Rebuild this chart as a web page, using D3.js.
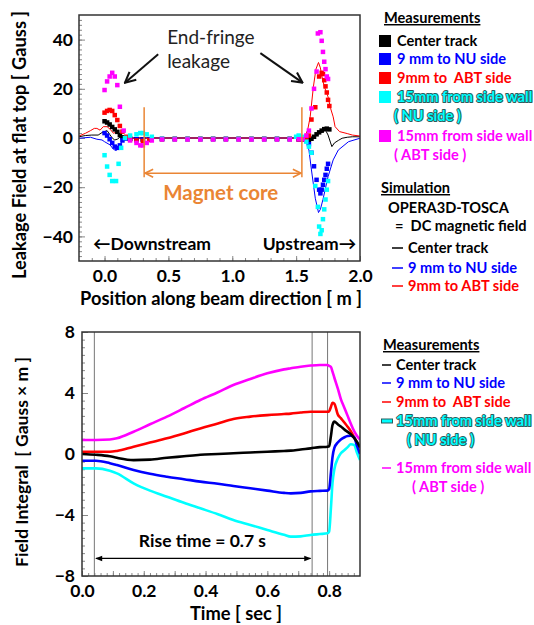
<!DOCTYPE html>
<html>
<head>
<meta charset="utf-8">
<script src="https://cdn.jsdelivr.net/npm/d3@7"></script>
<style>
  body { margin: 0; background: #fff; }
  svg text { font-family: Lato, "Open Sans", sans-serif; white-space: pre; }
  .tick text { font-weight: bold; font-size: 17.5px; fill: #000; }
  .tick line { stroke: #888; }
  .domain { display: none; }
  .outline { paint-order: stroke; stroke: #2d5c5c; stroke-width: 2px; stroke-linejoin: round; }
</style>
</head>
<body>
<script>
// ---------- top chart : leakage field at flat top ----------
var posTicks = [0.0, 0.5, 1.0, 1.5, 2.0];
var fieldTicks = [40, 20, 0, -20, -40];

var blackMeasX = [0.00,0.02,0.04,0.06,0.08,0.10,0.12,0.14,0.17,0.20,0.25,0.30,0.35,0.45,0.55,0.65,0.75,0.85,0.95,1.05,1.15,1.25,1.35,1.45,1.52,1.55,1.58,1.60,1.62,1.64,1.66,1.68,1.70,1.72,1.74,1.76];
var blackMeas  = [6.8,6.3,5.5,4.5,3.5,2.5,1.2,0.3,0.0,-0.3,-0.5,-0.6,-0.5,-0.4,-0.4,-0.4,-0.4,-0.4,-0.4,-0.4,-0.4,-0.4,-0.4,-0.4,-0.5,-0.6,-0.8,-0.8,-0.3,0.5,1.5,2.3,3.0,3.6,3.8,3.5];

var blueMeasX = [0.00,0.02,0.04,0.06,0.08,0.10,0.12,0.14,0.17,0.20,0.25,0.30,0.35,0.45,0.55,0.65,0.75,0.85,0.95,1.05,1.15,1.25,1.35,1.45,1.52,1.55,1.58,1.60,1.62,1.64,1.66,1.68,1.69,1.70,1.71,1.72,1.73,1.74,1.75];
var blueMeas  = [2.0,1.0,-0.5,-2.0,-3.5,-4.0,-3.0,-1.0,-0.2,-0.3,-0.5,-0.6,-0.5,-0.4,-0.4,-0.4,-0.4,-0.4,-0.4,-0.4,-0.4,-0.4,-0.4,-0.4,-0.5,-0.5,-1.0,-2.5,-6.0,-11.5,-17.0,-21.0,-22.5,-21.0,-19.0,-17.0,-15.0,-12.5,-10.5];

var redMeasX = [0.00,0.02,0.04,0.06,0.08,0.10,0.12,0.14,0.17,0.20,0.25,0.30,0.35,0.45,0.55,0.65,0.75,0.85,0.95,1.05,1.15,1.25,1.35,1.45,1.52,1.55,1.58,1.60,1.62,1.65,1.68,1.70,1.71,1.72,1.73,1.74,1.75,1.76];
var redMeas  = [10.3,11.0,11.4,11.0,9.3,7.3,4.9,2.6,0.5,-0.5,-1.0,-1.2,-0.8,-0.5,-0.4,-0.4,-0.4,-0.4,-0.4,-0.4,-0.4,-0.4,-0.4,-0.4,-0.5,-0.5,0.0,1.0,7.5,12.5,25.0,26.5,26.0,23.5,21.0,18.5,15.5,13.0];

var cyanMeasX = [0.00,0.02,0.04,0.06,0.09,0.11,0.13,0.16,0.20,0.25,0.28,0.30,0.33,0.37,0.45,0.55,0.65,0.75,0.85,0.95,1.05,1.15,1.25,1.35,1.45,1.50,1.52,1.55,1.58,1.60,1.62,1.65,1.67,1.68,1.69,1.70,1.71,1.72,1.73,1.74,1.75];
var cyanMeas  = [-7.0,-11.6,-15.0,-17.5,-17.5,-10.5,-4.0,0.0,1.0,1.5,2.0,2.0,1.5,0.5,-0.4,-0.4,-0.4,-0.4,-0.4,-0.4,-0.4,-0.4,-0.4,-0.4,-0.4,0.5,1.0,0.5,-1.5,-3.5,-6.0,-19.5,-28.0,-36.0,-39.0,-37.5,-33.0,-29.0,-25.0,-21.0,-17.5];

var magentaMeasX = [0.00,0.02,0.04,0.06,0.08,0.10,0.12,0.15,0.20,0.25,0.28,0.30,0.33,0.37,0.45,0.55,0.65,0.75,0.85,0.95,1.05,1.15,1.25,1.35,1.45,1.52,1.55,1.58,1.60,1.62,1.64,1.66,1.67,1.69,1.70,1.71,1.72,1.73,1.74,1.75];
var magentaMeas  = [19.5,23.0,25.0,26.5,25.0,21.5,12.7,3.0,-1.0,-2.0,-3.0,-3.0,-2.0,-1.0,-0.6,-0.6,-0.6,-0.6,-0.6,-0.6,-0.6,-0.6,-0.6,-0.6,-0.6,-0.5,-0.5,1.0,3.0,12.0,20.0,27.0,42.5,43.0,39.5,35.0,31.0,28.0,25.0,24.0];

// OPERA3D-TOSCA simulation
var simBlackX = [-0.20,-0.15,-0.10,-0.05,-0.02,0.00,0.02,0.04,0.06,0.08,0.10,0.12,0.15,0.20,1.55,1.58,1.61,1.65,1.69,1.73,1.75,1.77,1.78,1.80,1.83,1.86,1.90,1.94,2.00];
var simBlack  = [0.5,1.0,1.2,1.2,2.2,2.6,3.0,1.5,0.0,-0.8,-0.5,0.3,0.0,0.0,0.0,0.0,0.0,1.2,2.0,3.2,1.2,-2.0,-3.5,-2.0,-1.0,-0.1,0.3,0.5,0.5];
var simRedX = [-0.20,-0.15,-0.11,-0.08,-0.06,-0.035,-0.01,0.02,0.045,0.07,0.095,0.12,0.15,0.20,1.55,1.57,1.59,1.61,1.635,1.655,1.675,1.69,1.70,1.72,1.75,1.77,1.79,1.805,1.84,1.90,1.94,2.00];
var simRed  = [0.8,1.9,3.0,3.9,3.9,3.2,4.6,4.6,3.5,1.9,2.6,0.8,0.0,0.0,0.0,1.0,3.2,8.6,20.8,28.0,30.7,28.5,25.5,21.0,16.7,12.0,8.6,4.6,2.6,1.8,1.2,0.8];
var simBlueX = [-0.20,-0.11,-0.06,-0.02,0.00,0.043,0.07,0.09,0.11,0.135,0.16,0.20,1.55,1.58,1.60,1.62,1.65,1.675,1.69,1.71,1.75,1.79,1.83,1.91,2.00];
var simBlue  = [-0.1,0.3,-0.5,-0.8,-1.5,-2.8,-4.6,-5.1,-4.2,-1.5,-0.5,0.0,0.0,-1.5,-4.9,-13.0,-24.5,-30.3,-29.0,-25.0,-15.7,-8.9,-4.9,-1.5,-0.1];

var coreEdges = [0.31, 1.545];

// ---------- bottom chart : field integral vs time ----------
var timeTicks = [0.0, 0.2, 0.4, 0.6, 0.8];
var intTicks = [8, 4, 0, -4, -8];
var riseT = [0.000,0.045,0.090,0.113,0.167,0.220,0.275,0.330,0.383,0.440,0.490,0.545,0.600,0.654,0.676,0.708,0.740,0.770,0.795,0.800,0.806,0.811,0.817,0.828,0.838,0.850,0.860,0.870,0.881,0.890,0.900];
var intMagenta = [0.92,0.92,0.95,1.03,1.46,1.95,2.45,3.0,3.54,4.05,4.52,4.92,5.29,5.55,5.62,5.72,5.8,5.84,5.84,5.78,5.7,5.4,5.0,4.3,3.6,3.0,2.5,2.0,1.5,1.2,0.95];
var intRed     = [0.15,0.15,0.15,0.2,0.48,0.75,1.03,1.35,1.68,2.0,2.3,2.45,2.55,2.62,2.65,2.72,2.77,2.77,2.77,2.8,3.1,3.35,3.3,2.6,2.35,2.05,1.79,1.5,1.1,0.75,0.4];
var intBlack   = [0.0,-0.05,-0.15,-0.25,-0.4,-0.37,-0.25,-0.15,-0.05,0.0,0.05,0.1,0.15,0.2,0.22,0.3,0.37,0.45,0.48,0.5,1.2,1.9,2.12,1.95,1.8,1.6,1.45,1.3,1.05,0.8,0.45];
var intBlue    = [-0.44,-0.44,-0.6,-0.72,-1.05,-1.3,-1.49,-1.65,-1.81,-1.95,-2.1,-2.25,-2.4,-2.55,-2.58,-2.55,-2.45,-2.42,-2.4,-2.3,-1.2,-0.2,0.4,0.75,0.95,1.1,1.18,1.2,1.1,0.55,0.0];
var intCyan    = [-0.94,-0.94,-1.1,-1.27,-1.92,-2.4,-2.8,-3.2,-3.56,-3.95,-4.33,-4.65,-4.98,-5.3,-5.42,-5.4,-5.31,-5.25,-5.2,-5.1,-3.5,-1.9,-1.0,-0.3,0.05,0.26,0.45,0.64,0.6,0.1,-0.39];
var timeMarkers = [0.04, 0.745, 0.795];
var riseStart = 0.045, riseEnd = 0.74;

var W = 534, H = 625;
var svg = d3.select("body").append("svg").attr("width", W).attr("height", H);

var defs = svg.append("defs");
function openArrow(id, color, size) {
  defs.append("marker").attr("id", id)
    .attr("viewBox", "0 0 10 10").attr("refX", 9).attr("refY", 5)
    .attr("markerWidth", size).attr("markerHeight", size)
    .attr("markerUnits", "userSpaceOnUse")
    .attr("orient", "auto-start-reverse")
    .append("path").attr("d", "M1,1 L9,5 L1,9")
    .attr("fill", "none").attr("stroke", color).attr("stroke-width", 1.6);
}
openArrow("arrBlack", "#111", 13);
openArrow("arrOrange", "#ea8534", 10);
defs.append("marker").attr("id", "arrFill")
  .attr("viewBox", "0 0 10 10").attr("refX", 9).attr("refY", 5)
  .attr("markerWidth", 9).attr("markerHeight", 7)
  .attr("markerUnits", "userSpaceOnUse")
  .attr("orient", "auto-start-reverse")
  .append("path").attr("d", "M0,1 L10,5 L0,9 Z").attr("fill", "#000");

// ================= TOP =================
var x1 = d3.scaleLinear().domain([-0.2, 2.0]).range([79, 360]);
var y1 = d3.scaleLinear().domain([-50, 50]).range([261, 15]);

defs.append("clipPath").attr("id", "clip1").append("rect")
  .attr("x", 79).attr("y", 15).attr("width", 281).attr("height", 246);

var g1 = svg.append("g");

// minor ticks
g1.append("g").attr("transform", "translate(79,0)")
  .call(d3.axisLeft(y1).tickValues(d3.range(-48, 50, 2)).tickSize(-3).tickFormat(""));
g1.append("g").attr("transform", "translate(0,261)")
  .call(d3.axisBottom(x1).tickValues(d3.range(-0.1, 2.0, 0.1)).tickSize(-3).tickFormat(""));
// major ticks with labels
g1.append("g").attr("transform", "translate(79,0)")
  .call(d3.axisLeft(y1).tickValues(fieldTicks).tickSize(-6).tickPadding(6)
    .tickFormat(function(d){ return d < 0 ? "\u2212" + Math.abs(d) : d; }));
g1.append("g").attr("transform", "translate(0,261)")
  .call(d3.axisBottom(x1).tickValues(posTicks).tickSize(-5).tickPadding(9)
    .tickFormat(d3.format(".1f")));

var plot1 = g1.append("g").attr("clip-path", "url(#clip1)");

var line1 = d3.line().x(function(d){ return x1(d[0]); }).y(function(d){ return y1(d[1]); });
var sims = [
  {x: simBlackX, y: simBlack, c: "#000"},
  {x: simBlueX, y: simBlue, c: "#0000ff"},
  {x: simRedX, y: simRed, c: "#ff0000"}
];
sims.forEach(function(s){
  plot1.append("path").datum(d3.zip(s.x, s.y)).attr("d", line1)
    .attr("fill", "none").attr("stroke", s.c).attr("stroke-width", 1);
});

var meas = [
  {x: blackMeasX, y: blackMeas, c: "#000"},
  {x: blueMeasX, y: blueMeas, c: "#0000ff"},
  {x: redMeasX, y: redMeas, c: "#ff0000"},
  {x: cyanMeasX, y: cyanMeas, c: "#00ffff"},
  {x: magentaMeasX, y: magentaMeas, c: "#ff00ff"}
];
var sq = 4.5;
meas.forEach(function(s){
  plot1.append("g").selectAll("rect").data(d3.zip(s.x, s.y)).enter().append("rect")
    .attr("x", function(d){ return x1(d[0]) - sq/2; })
    .attr("y", function(d){ return y1(d[1]) - sq/2; })
    .attr("width", sq).attr("height", sq).attr("fill", s.c);
});

// magnet core annotation
coreEdges.forEach(function(e){
  g1.append("line").attr("x1", x1(e)).attr("x2", x1(e))
    .attr("y1", y1(12.5)).attr("y2", y1(-16))
    .attr("stroke", "#ea8534").attr("stroke-width", 1.5);
});
g1.append("line").attr("x1", x1(coreEdges[0]) + 1).attr("x2", x1(coreEdges[1]) - 1)
  .attr("y1", y1(-14.3)).attr("y2", y1(-14.3))
  .attr("stroke", "#ea8534").attr("stroke-width", 1.5)
  .attr("marker-start", "url(#arrOrange)").attr("marker-end", "url(#arrOrange)");
g1.append("text").attr("x", x1(0.91)).attr("y", y1(-25)).attr("text-anchor", "middle")
  .attr("font-size", 20.5).attr("font-weight", "bold").attr("fill", "#ea8534").text("Magnet core");

// end-fringe annotation
g1.append("text").attr("x", x1(0.49)).attr("y", y1(38.3))
  .attr("font-size", 19).attr("fill", "#222").text("End-fringe");
g1.append("text").attr("x", x1(0.49)).attr("y", y1(28.5))
  .attr("font-size", 19).attr("fill", "#222").text("leakage");
g1.append("line").attr("x1", x1(0.42)).attr("y1", y1(34))
  .attr("x2", x1(0.16)).attr("y2", y1(22.5))
  .attr("stroke", "#111").attr("stroke-width", 2).attr("marker-end", "url(#arrBlack)");
g1.append("line").attr("x1", x1(1.22)).attr("y1", y1(34.5))
  .attr("x2", x1(1.55)).attr("y2", y1(22.5))
  .attr("stroke", "#111").attr("stroke-width", 2).attr("marker-end", "url(#arrBlack)");

g1.append("text").attr("x", x1(-0.09)).attr("y", y1(-45.5))
  .attr("font-size", 17.5).attr("font-weight", "bold").text("\u2190Downstream");
g1.append("text").attr("x", x1(1.97)).attr("y", y1(-45.5)).attr("text-anchor", "end")
  .attr("font-size", 17.5).attr("font-weight", "bold").text("Upstream\u2192");

// frame
g1.append("rect").attr("x", 79).attr("y", 15).attr("width", 281).attr("height", 246)
  .attr("fill", "none").attr("stroke", "#333").attr("stroke-width", 1.5);

// axis titles
svg.append("text").attr("x", 221).attr("y", 305).attr("text-anchor", "middle")
  .attr("font-size", 18.3).attr("font-weight", "bold").text("Position along beam direction [ m ]");
svg.append("text").attr("transform", "translate(26,145) rotate(-90)").attr("text-anchor", "middle")
  .attr("font-size", 18.3).attr("font-weight", "bold").text("Leakage Field at flat top [ Gauss ]");

// top legend
var measLabels = [["Center track"], ["9 mm to NU side"], ["9mm to  ABT side"],
  ["15mm from side wall", "( NU side )"], ["15mm from side wall", "( ABT side )"]];
var measColors = ["#000000", "#0000ff", "#ff0000", "#00ffff", "#ff00ff"];
var measRows = [41, 59, 78, 97, 136];

var lg1 = svg.append("g");
lg1.append("text").attr("x", 384).attr("y", 23).attr("font-size", 14.6).attr("font-weight", "bold")
  .attr("text-decoration", "underline").text("Measurements");
measLabels.forEach(function(lab, i){
  var yy = measRows[i];
  lg1.append("rect").attr("x", 379).attr("y", yy - 6).attr("width", 12).attr("height", 12)
    .attr("fill", measColors[i]);
  lab.forEach(function(t, j){
    var tx = lg1.append("text").attr("x", j ? 394 : 397).attr("y", yy + 5 + j * 19)
      .attr("font-size", 14.6).attr("font-weight", "bold").attr("fill", measColors[i]).text(t);
    if (i === 3) tx.attr("class", "outline");
  });
});
lg1.append("text").attr("x", 381).attr("y", 193).attr("font-size", 14.6).attr("font-weight", "bold")
  .attr("text-decoration", "underline").text("Simulation");
lg1.append("text").attr("x", 388).attr("y", 213).attr("font-size", 14.6).attr("font-weight", "bold")
  .text("OPERA3D-TOSCA");
lg1.append("text").attr("x", 395).attr("y", 231).attr("font-size", 14.6).attr("font-weight", "bold")
  .text("=  DC magnetic field");
var simLabels = ["Center track", "9 mm to NU side", "9mm to ABT side"];
var simColors = ["#000000", "#0000ff", "#ff0000"];
var simRows = [248, 268, 286];
simLabels.forEach(function(t, i){
  lg1.append("line").attr("x1", 392).attr("x2", 403).attr("y1", simRows[i]).attr("y2", simRows[i])
    .attr("stroke", simColors[i]).attr("stroke-width", 1.5);
  lg1.append("text").attr("x", 408).attr("y", simRows[i] + 5).attr("font-size", 14.6)
    .attr("font-weight", "bold").attr("fill", simColors[i]).text(t);
});

// ================= BOTTOM =================
var x2 = d3.scaleLinear().domain([0, 0.9]).range([82, 360]);
var y2 = d3.scaleLinear().domain([-8, 8]).range([576, 332]);

defs.append("clipPath").attr("id", "clip2").append("rect")
  .attr("x", 82).attr("y", 332).attr("width", 278).attr("height", 244);

var g2 = svg.append("g");
g2.append("g").attr("transform", "translate(82,0)")
  .call(d3.axisLeft(y2).tickValues(d3.range(-7.5, 8, 0.5)).tickSize(-3).tickFormat(""));
g2.append("g").attr("transform", "translate(0,576)")
  .call(d3.axisBottom(x2).tickValues(d3.range(0.02, 0.9, 0.02)).tickSize(-3).tickFormat(""));
g2.append("g").attr("transform", "translate(82,0)")
  .call(d3.axisLeft(y2).tickValues(intTicks).tickSize(-6).tickPadding(7)
    .tickFormat(function(d){ return d < 0 ? "\u2212" + Math.abs(d) : d; }));
g2.append("g").attr("transform", "translate(0,576)")
  .call(d3.axisBottom(x2).tickValues([0.1, 0.3, 0.5, 0.7]).tickSize(-5).tickFormat(""));
g2.append("g").attr("transform", "translate(0,576)")
  .call(d3.axisBottom(x2).tickValues(timeTicks).tickSize(-5).tickPadding(9)
    .tickFormat(d3.format(".1f")));

timeMarkers.forEach(function(t){
  g2.append("line").attr("x1", x2(t)).attr("x2", x2(t)).attr("y1", 332).attr("y2", 576)
    .attr("stroke", "#777").attr("stroke-width", 1);
});

var plot2 = g2.append("g").attr("clip-path", "url(#clip2)");
var line2 = d3.line().curve(d3.curveMonotoneX)
  .x(function(d){ return x2(d[0]); }).y(function(d){ return y2(d[1]); });
var ints = [
  {v: intMagenta, c: "#ff00ff"},
  {v: intRed, c: "#ff0000"},
  {v: intCyan, c: "#00ffff"},
  {v: intBlue, c: "#0000ff"},
  {v: intBlack, c: "#000000"}
];
ints.forEach(function(s){
  plot2.append("path").datum(d3.zip(riseT, s.v)).attr("d", line2)
    .attr("fill", "none").attr("stroke", s.c).attr("stroke-width", 2.6);
});

g2.append("line").attr("x1", x2(riseStart)).attr("x2", x2(riseEnd))
  .attr("y1", y2(-6.85)).attr("y2", y2(-6.85))
  .attr("stroke", "#000").attr("stroke-width", 1.2)
  .attr("marker-start", "url(#arrFill)").attr("marker-end", "url(#arrFill)");
g2.append("text").attr("x", x2(0.39)).attr("y", y2(-6.1)).attr("text-anchor", "middle")
  .attr("font-size", 17.5).attr("font-weight", "bold").text("Rise time = 0.7 s");

g2.append("rect").attr("x", 82).attr("y", 332).attr("width", 278).attr("height", 244)
  .attr("fill", "none").attr("stroke", "#333").attr("stroke-width", 1.5);

svg.append("text").attr("x", 236).attr("y", 620).attr("text-anchor", "middle")
  .attr("font-size", 18.3).attr("font-weight", "bold").text("Time [ sec ]");
svg.append("text").attr("transform", "translate(28,462) rotate(-90)").attr("text-anchor", "middle")
  .attr("font-size", 17.5).attr("font-weight", "bold")
  .text("Field Integral  [ Gauss \u00d7 m ]");

// bottom legend
var intLabels = [["Center track"], ["9 mm to NU side"], ["9mm to  ABT side"],
  ["15mm from side wall", "( NU side )"], ["15mm from side wall", "( ABT side )"]];
var intColors = ["#000000", "#0000ff", "#ff0000", "#00ffff", "#ff00ff"];
var intRows = [365, 383, 402, 421, 468];
var intSubX = [0, 0, 0, 407, 412];

var lg2 = svg.append("g");
lg2.append("text").attr("x", 383).attr("y", 350).attr("font-size", 14.6).attr("font-weight", "bold")
  .attr("text-decoration", "underline").text("Measurements");
intLabels.forEach(function(lab, i){
  var yy = intRows[i];
  if (i === 3) {
    lg2.append("line").attr("x1", 381).attr("x2", 393).attr("y1", yy).attr("y2", yy)
      .attr("stroke", "#2d5c5c").attr("stroke-width", 5);
  }
  lg2.append("line").attr("x1", 382).attr("x2", i === 3 ? 392 : 391)
    .attr("y1", yy).attr("y2", yy).attr("stroke", intColors[i])
    .attr("stroke-width", i === 3 ? 3 : 1.5);
  lab.forEach(function(t, j){
    var tx = lg2.append("text").attr("x", j ? intSubX[i] : 396).attr("y", yy + 5 + j * 19)
      .attr("font-size", 14.6).attr("font-weight", "bold").attr("fill", intColors[i]).text(t);
    if (i === 3) tx.attr("class", "outline");
  });
});
</script>
</body>
</html>
